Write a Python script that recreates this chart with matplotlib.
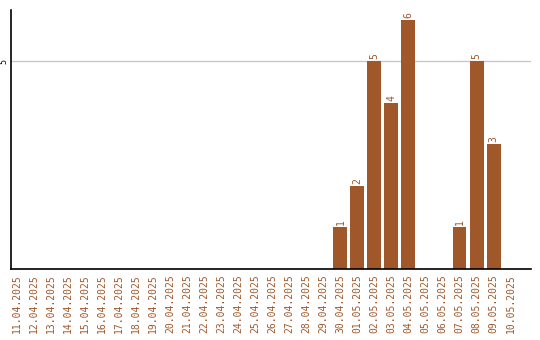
import matplotlib
matplotlib.use("Agg")
import matplotlib.pyplot as plt
import datetime as dt

start = dt.date(2025, 4, 11)
dates = [(start + dt.timedelta(days=i)).strftime("%d.%m.%Y") for i in range(30)]
values = [0] * 30
counts = {"30.04.2025": 1, "01.05.2025": 2, "02.05.2025": 5, "03.05.2025": 4,
          "04.05.2025": 6, "07.05.2025": 1, "08.05.2025": 5, "09.05.2025": 3}
for k, v in counts.items():
    values[dates.index(k)] = v

color = "#A0582A"
fig = plt.figure(figsize=(5.4, 3.4), dpi=100)
ax = fig.add_axes([11/540, 71/340, 520/540, 259/340])
x = list(range(len(dates)))
ax.bar(x, values, width=0.82, color=color, zorder=2)
for xi, v in zip(x, values):
    if v > 0:
        ax.text(xi, v + 0.05, str(v), rotation=90, ha="center", va="bottom",
                color=color, fontsize=7, family="DejaVu Sans Mono")
ax.set_xlim(-0.35, 30.2)
ax.set_ylim(0, 6.24)
ax.set_yticks([5])
ax.set_yticklabels(["5"], rotation=90, va="center", fontsize=6, family="DejaVu Sans Mono")
ax.yaxis.grid(True, color="#c8c8c8", linewidth=1, zorder=0)
ax.set_xticks(x)
ax.set_xticklabels(dates, rotation=90, fontsize=7, color=color, family="DejaVu Sans Mono")
ax.tick_params(length=0, pad=4)
ax.tick_params(axis="y", pad=2)
for s in ["top", "right"]:
    ax.spines[s].set_visible(False)
ax.spines["left"].set_linewidth(1.2)
ax.spines["bottom"].set_linewidth(1.2)
fig.savefig("out.png", dpi=100)
